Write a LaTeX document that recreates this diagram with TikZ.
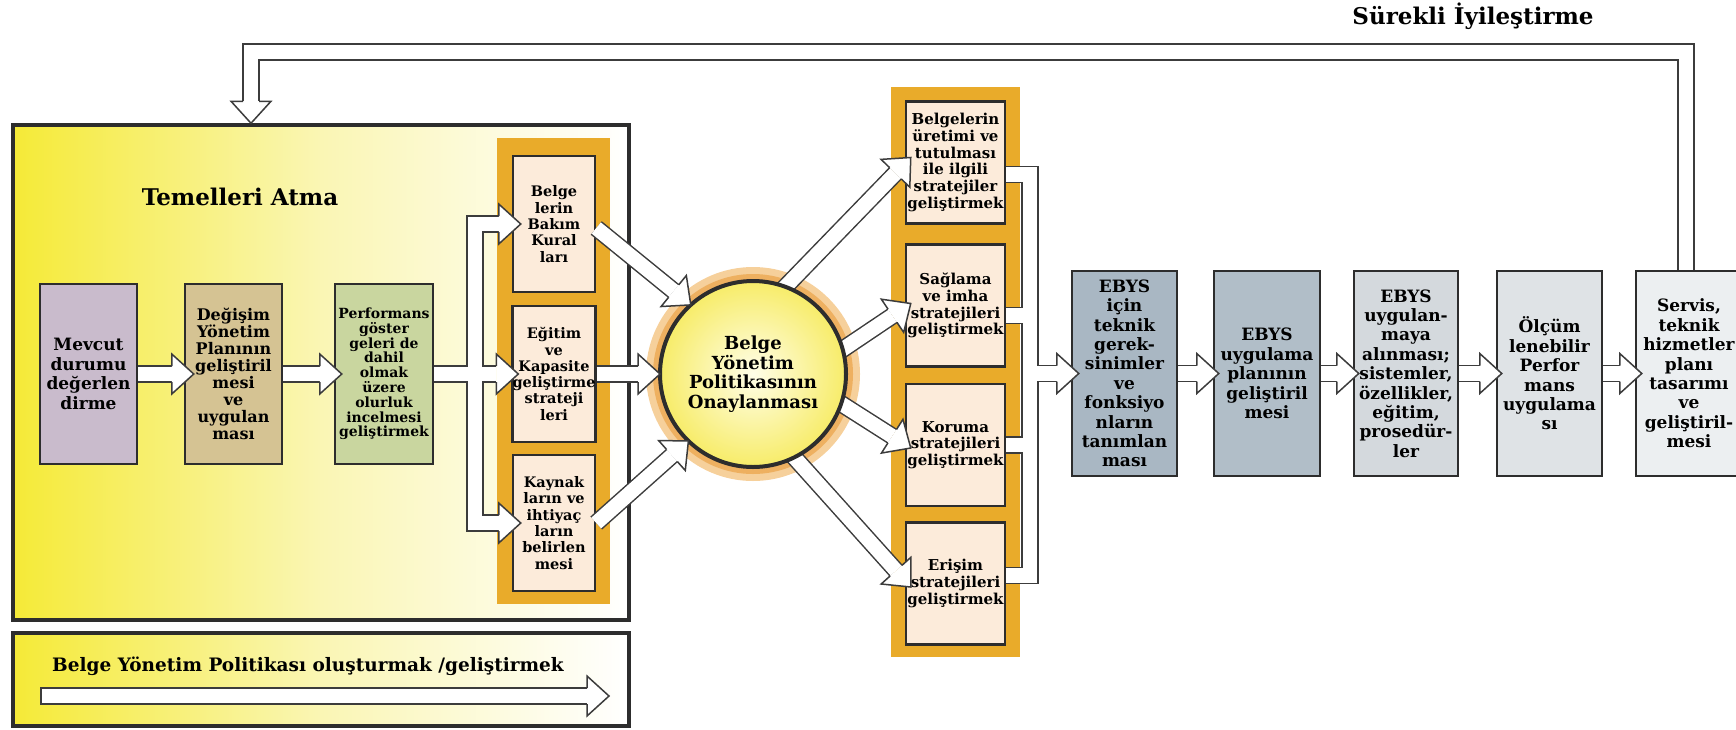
\documentclass[tikz,border=0pt]{standalone}
\usepackage{fontspec}
\setmainfont{DejaVu Serif}
\usetikzlibrary{calc}

\definecolor{kenar}{RGB}{45,45,45}
\definecolor{okkenar}{RGB}{60,60,60}
\definecolor{sari}{RGB}{245,234,55}
\definecolor{acsari}{RGB}{250,246,180}
\definecolor{turuncu}{RGB}{233,171,42}
\definecolor{seftali}{RGB}{252,235,218}
\definecolor{mor}{RGB}{201,187,204}
\definecolor{ten}{RGB}{213,195,147}
\definecolor{yesil}{RGB}{201,214,159}
\definecolor{gri1}{RGB}{169,183,195}
\definecolor{gri2}{RGB}{177,190,200}
\definecolor{gri3}{RGB}{212,217,221}
\definecolor{gri4}{RGB}{223,227,230}
\definecolor{gri5}{RGB}{236,239,241}
\definecolor{hale}{RGB}{238,176,96}
\definecolor{haleacik}{RGB}{246,208,155}
\definecolor{cemberic}{RGB}{255,254,232}
\definecolor{cemberdis}{RGB}{247,236,105}

\tikzset{
  anaalan/.style={draw=kenar, line width=3.5pt, inner sep=0pt, left color=sari, right color=white, middle color=acsari},
  kutu/.style={draw=kenar, line width=2.5pt, inner sep=0pt, align=center, minimum width=97, minimum height=180, font=\bfseries\fontsize{17}{19.5}\selectfont},
  sutun/.style={fill=turuncu, inner sep=0pt},
  sutunkutu/.style={kutu, fill=seftali, minimum width=82, minimum height=136, font=\bfseries\fontsize{14.5}{16.3}\selectfont},
  sagkutu/.style={kutu, fill=seftali, minimum width=99, minimum height=122, font=\bfseries\fontsize{15}{16.7}\selectfont},
  ebys/.style={kutu, minimum width=105, minimum height=205, font=\bfseries\fontsize{17}{19.4}\selectfont},
  baslik/.style={font=\bfseries\fontsize{23}{26}\selectfont, inner sep=0pt},
  govde/.style={draw=okkenar, line width=17.5pt, line join=miter, postaction={draw=white, line width=14.5pt}},
  bas/.style={fill=white, draw=okkenar, line width=1.5pt, line join=miter},
}

% ok basi: #1 yon noktasi, #2 uc
\newcommand{\okbasi}[2]{%
  \path ($(#2)!22pt!(#1)$) coordinate (ob-h);
  \filldraw[bas] ($(ob-h)!8pt!-90:(#1)$) -- ($(ob-h)!20pt!-90:(#1)$) -- (#2)
    -- ($(ob-h)!20pt!90:(#1)$) -- ($(ob-h)!8pt!90:(#1)$);
}
% kalin ok: #1 baslangic, #2 uc
\newcommand{\kalinok}[2]{%
  \path ($(#2)!22pt!(#1)$) coordinate (ko-h);
  \draw[govde] (#1) -- (ko-h);
  \okbasi{#1}{#2}%
}

\begin{document}
\begin{tikzpicture}[x=1pt, y=-1pt]
  \useasboundingbox (0,0) rectangle (1736,729);

  % Temelleri atma alani
  \node[anaalan, minimum width=616, minimum height=495] (temel) at (321,372.5) {};
  \node[baslik] (temelbaslik) at (240,197) {Temelleri Atma};

  % Politika seridi
  \node[anaalan, minimum width=616, minimum height=93] (serit) at (321,679.5) {};
  \node[font=\bfseries\fontsize{18.5}{21}\selectfont, inner sep=0pt] (seritbaslik) at (308,666) {Belge Yönetim Politikası oluşturmak /geliştirmek};
  \coordinate (serit-a) at (41,696);
  \coordinate (serit-b) at (609,696);
  \kalinok{serit-a}{serit-b}
  \draw[okkenar, line width=1.5pt] (41,687.25) -- (41,704.75);

  % Ilk adimlar
  \node[kutu, fill=mor] (mevcut) at (88.5,374) {Mevcut\\durumu\\değerlen\\dirme};
  \node[kutu, fill=ten, font=\bfseries\fontsize{16}{17}\selectfont] (degisim) at (233.5,374) {Değişim\\Yönetim\\Planının\\geliştiril\\mesi\\ve\\uygulan\\ması};
  \node[kutu, fill=yesil, minimum width=98, font=\bfseries\fontsize{14}{14.8}\selectfont] (perf) at (384,374) {Performans\\göster\\geleri de\\dahil\\olmak\\üzere\\olurluk\\incelmesi\\geliştirmek};

  % Sol sutun
  \node[sutun, minimum width=113, minimum height=466] (solsutun) at (553.5,371) {};
  \node[sutunkutu] (kural) at (554,224) {Belge\\lerin\\Bakım\\Kural\\ları};
  \node[sutunkutu] (egitim) at (554,374) {Eğitim\\ve\\Kapasite\\geliştirme\\strateji\\leri};
  \node[sutunkutu] (kaynak) at (554,523) {Kaynak\\ların ve\\ihtiyaç\\ların\\belirlen\\mesi};

  % Adim oklari
  \path ([xshift=10]degisim.west) coordinate (ok-1)
        ([xshift=8]perf.west) coordinate (ok-2);
  \kalinok{mevcut.east}{ok-1}
  \kalinok{degisim.east}{ok-2}

  % Catal
  \coordinate (catal-x) at (475,0);
  \path ([xshift=9]kural.west) coordinate (catal-1)
        ([xshift=7]egitim.west) coordinate (catal-2)
        ([xshift=9]kaynak.west) coordinate (catal-3);
  \path (catal-1 -| catal-x) coordinate (catal-1x)
        (catal-3 -| catal-x) coordinate (catal-3x);
  \draw[govde] ([xshift=-22]catal-1) -- (catal-1x) -- (catal-3x) -- ([xshift=-22]catal-3)
               (perf.east) -- ([xshift=-22]catal-2);
  \okbasi{catal-1x}{catal-1}
  \okbasi{perf.east}{catal-2}
  \okbasi{catal-3x}{catal-3}

  % Sag sutun
  \node[sutun, minimum width=129, minimum height=570] (sagsutun) at (955.5,372) {};
  \node[sagkutu] (uretim) at (955.5,162.5) {Belgelerin\\üretimi ve\\tutulması\\ile ilgili\\stratejiler\\geliştirmek};
  \node[sagkutu] (saglama) at (955.5,305.5) {Sağlama\\ve imha\\stratejileri\\geliştirmek};
  \node[sagkutu] (koruma) at (955.5,445) {Koruma\\stratejileri\\geliştirmek};
  \node[sagkutu] (erisim) at (955.5,583.5) {Erişim\\stratejileri\\geliştirmek};

  % Politika cemberi
  \coordinate (merkez) at (753,374);
  \fill[haleacik] (merkez) circle (107);
  \fill[hale] (merkez) circle (100);
  \path (merkez) ++(6,-60) coordinate (cik-1)
        (merkez) ++(50,2) coordinate (cik-2)
        (merkez) ++(51,6) coordinate (cik-3)
        (merkez) ++(15,54) coordinate (cik-4);
  \path ([xshift=6,yshift=5]uretim.west) coordinate (uc-1)
        ([xshift=6,yshift=2]saglama.west) coordinate (uc-2)
        ([xshift=6,yshift=-3]koruma.west) coordinate (uc-3)
        ([xshift=6,yshift=-3.5]erisim.west) coordinate (uc-4);
  \kalinok{cik-1}{uc-1}
  \kalinok{cik-2}{uc-2}
  \kalinok{cik-3}{uc-3}
  \kalinok{cik-4}{uc-4}
  \node[circle, draw=kenar, line width=4pt, inner color=cemberic, outer color=cemberdis, minimum size=186, inner sep=0pt, outer sep=0pt, align=center, font=\bfseries\fontsize{18}{19.5}\selectfont] (politika) at (merkez) {Belge\\Yönetim\\Politikasının\\Onaylanması};
  \path ([yshift=-4]kural.east) coordinate (gir-1);
  \kalinok{gir-1}{politika.132}
  \kalinok{egitim.east}{politika.west}
  \kalinok{kaynak.east}{politika.226}

  % EBYS adimlari
  \node[ebys, fill=gri1] (ebys1) at (1124.5,373.5) {EBYS\\için\\teknik\\gerek-\\sinimler\\ve\\fonksiyo\\nların\\tanımlan\\ması};
  \node[ebys, fill=gri2, minimum width=106] (ebys2) at (1267,373.5) {EBYS\\uygulama\\planının\\geliştiril\\mesi};
  \node[ebys, fill=gri3, minimum width=104] (ebys3) at (1406,373.5) {EBYS\\uygulan-\\maya\\alınması;\\sistemler,\\özellikler,\\eğitim,\\prosedür-\\ler};
  \node[ebys, fill=gri4] (olcum) at (1549.5,373.5) {Ölçüm\\lenebilir\\Perfor\\mans\\uygulama\\sı};
  \node[ebys, fill=gri5, minimum width=106] (servis) at (1689,373.5) {Servis,\\teknik\\hizmetler\\planı\\tasarımı\\ve\\geliştiril-\\mesi};

  % Toplama
  \coordinate (topla-x) at (1030,0);
  \path ([yshift=-12]uretim.east) coordinate (topla-1)
        ([yshift=-10]saglama.east) coordinate (topla-2)
        (koruma.east) coordinate (topla-3)
        ([yshift=8]erisim.east) coordinate (topla-4)
        ([xshift=8]ebys1.west) coordinate (topla-uc);
  \path (topla-1 -| topla-x) coordinate (topla-1x)
        (topla-2 -| topla-x) coordinate (topla-2x)
        (topla-3 -| topla-x) coordinate (topla-3x)
        (topla-4 -| topla-x) coordinate (topla-4x)
        (topla-uc -| topla-x) coordinate (topla-ux);
  \draw[govde] (topla-1) -- (topla-1x) -- (topla-4x) -- (topla-4)
               (topla-2) -- (topla-2x) (topla-3) -- (topla-3x)
               (topla-ux) -- ([xshift=-22]topla-uc);
  \okbasi{topla-ux}{topla-uc}

  % EBYS oklari
  \path ([xshift=6]ebys2.west) coordinate (e-1)
        ([xshift=6]ebys3.west) coordinate (e-2)
        ([xshift=6]olcum.west) coordinate (e-3)
        ([xshift=7]servis.west) coordinate (e-4);
  \kalinok{ebys1.east}{e-1}
  \kalinok{ebys2.east}{e-2}
  \kalinok{ebys3.east}{e-3}
  \kalinok{olcum.east}{e-4}

  % Surekli iyilestirme
  \coordinate (geri-y) at (0,52);
  \path ([xshift=-3]servis.north) coordinate (geri-0)
        ([xshift=-70]temel.north) coordinate (geri-uc);
  \path (geri-0 |- geri-y) coordinate (geri-1)
        (geri-uc |- geri-y) coordinate (geri-2);
  \draw[govde] (geri-0) -- (geri-1) -- (geri-2) -- ([yshift=22]geri-uc);
  \okbasi{geri-2}{geri-uc}
  \node[baslik] (surekli) at (1473,16) {Sürekli İyileştirme};
\end{tikzpicture}
\end{document}
